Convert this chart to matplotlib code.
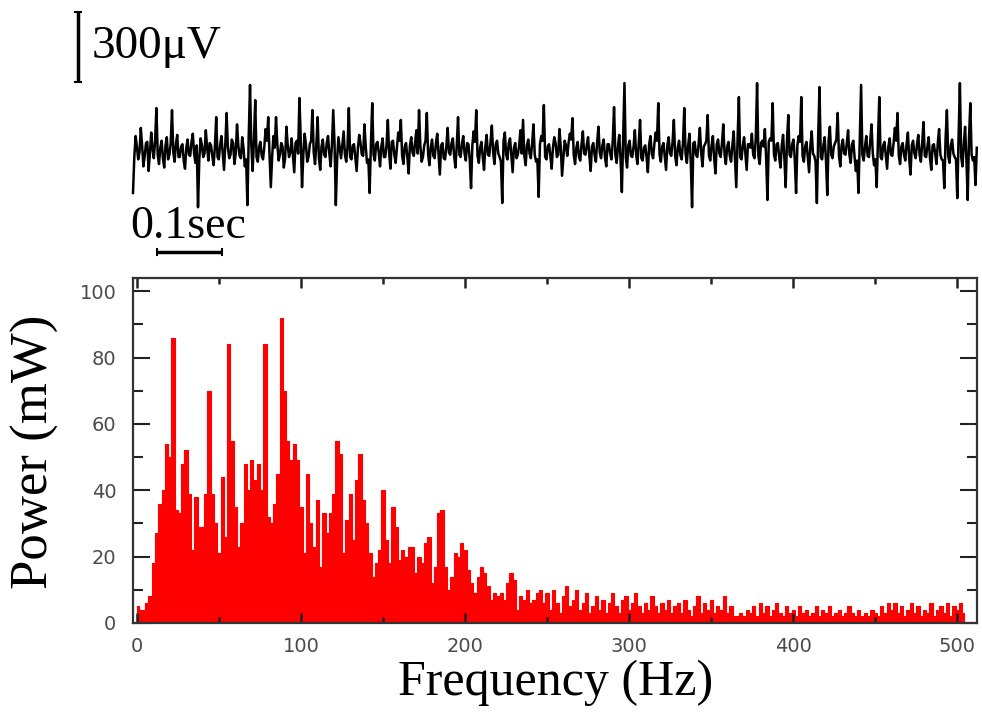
import matplotlib
matplotlib.use('Agg')
import matplotlib.pyplot as plt
import numpy as np

# raw trace, microvolts, one sample every 2 ms
trace_dt = 0.002
trace_uv = [
    -184, -30, 60, 15, -40, -10, 95, 20, -70, -25, 30, 35, -90, -15, 75, 5, -35, 40, 180, -20, -60, 10, 40, -35, -75, 20, 55, -40, -20, 30, 171, -10, -50, 25, 65, -30, -30, 15, 25, -45, -80, 10, 45, -20, -25, 35, 70, -15, -55, 20,
    -245, -40, 50, 20, -30, -15, 85, 10, -45, 30, 20, -25, -65, 15, 141, -30, -40, 20, 60, -10, -85, 25, 159, 10, -35, -20, 45, 30, -60, -15, 110, 20, -25, -35, 55, 10, -70, -40, -236, 60, 279, 20, -90, 40, 214, -30, -50, 15, 35, -25,
    -40, 15, 90, 40, 141, -20, -159, -30, 60, 10, 141, 25, -45, -20, 30, 15, -75, -35, 100, 20, -30, -10, 50, -25, -95, 30, 40, -15, 223, 50, -159, -20, 70, 25, -50, -30, 25, 40, 171, -10, -60, 20, 141, -35, -85, 15, 45, -20, -30, 30,
    60, -15, -70, 20, 171, 30, -236, -40, 55, 10, -35, 25, 80, -20, -50, 15, 180, -30, -40, 20, 25, -35, -90, 10, 65, 30, -20, -25, 110, 15, -55, -40, -184, 30, 201, -20, -45, 25, 35, -10, -70, 15, 50, -30, -30, 20, 129, -15, -80, 35,
    40, -20, -55, 10, 75, 40, 129, -25, -60, 15, 30, -30, -100, 20, 55, -10, -25, 35, 85, -15, 171, 20, -50, -30, 20, 40, 159, -20, -65, 10, 45, -25, -35, 30, 70, -15, -105, 20, 30, -35, -40, 15, 95, -10, -20, 30, 50, -25, -75, 20,
    141, -20, -30, 25, 60, -15, -45, 30, 25, -40, -163, 20, 80, 35, 171, -25, -55, 10, 35, -30, -85, 15, 65, -20, -25, 35, 105, -10, -60, 25, 40, -15, -30, -50, -227, 40, 75, -20, -40, 30, 50, -25, -95, 10, 30, -35, -20, 20, 85, -15,
    129, -25, -65, 20, 45, -15, -35, 30, 110, -20, -50, -40, -201, 25, 60, 40, 193, -30, -40, 15, 25, -25, -80, 10, 55, 30, -30, -20, 90, 15, -110, -35, 40, 20, -25, 30, 70, 45, 137, -20, -60, 10, 35, -30, -45, 25, 80, -15, -20, 20,
    55, -25, -90, 15, 30, -20, -50, 35, 100, -10, -35, 20, 45, -30, -70, 25, 25, -15, -40, 40, 184, -20, -55, 15, 65, -40, -180, 50, 287, -30, -75, 20, 40, -25, -30, 15, 85, -20, -60, 30, 129, -35, -45, 10, 20, -30, -95, 25, 60, -15,
    -35, 25, 75, 40, 201, -20, -50, 15, 30, -30, -85, 20, 55, -15, -25, 35, 129, -25, -65, 10, 40, -20, -40, 30, 180, -15, -55, 20, 70, -50, -245, 30, 35, -20, -30, 25, 95, -10, -70, 15, 25, 40, 150, -25, -45, 20, 60, -35, -100, 25,
    45, -15, -30, 30, 110, -20, -60, 15, 35, -25, -50, 20, 80, -40, -159, 45, 227, -30, -40, 20, 55, -15, -85, 25, 25, 10, 70, -20, -35, 50, 287, -25, -60, 30, 40, 15, 90, -40, -214, 35, 50, 40, 201, -20, -45, 25, 30, -30, -75, 20,
    65, -35, -159, 40, 150, -20, -30, 25, 45, -40, -184, 20, 60, 35, 227, -25, -50, 15, 35, -30, -95, 20, 80, -15, -25, -50, -227, 60, 270, -30, -40, 20, 55, -45, -193, 40, 100, -20, -35, 15, 30, 45, 159, -25, -70, 20, 45, -15, -20, 30,
    85, -20, -55, 25, 40, -30, -90, -45, -184, 50, 279, -20, -45, 15, 60, -25, -30, 35, 110, -15, -65, -40, -159, 45, 227, -30, -40, 20, 35, -25, -80, 15, 50, -20, -25, 30, 95, 40, 159, -25, -60, 15, 30, -20, -45, 25, 75, -35, -105, 20,
    40, -15, -35, 25, 65, -20, -50, 30, 120, -25, -30, 15, 55, -35, -85, 20, 25, -15, -60, 30, 90, -20, -40, -45, -163, 50, 171, -25, -55, 20, 45, -15, -30, -40, -206, 60, 287, -30, -70, 25, 100, -40, -214, 50, 201, -20, -45, -30, -150, 10,
]

# power spectrum, mW, 2 Hz bins starting at 0 Hz
freq_step = 2
power_mw = [
    5, 4, 4, 6, 8, 18, 27, 36, 40, 54,
    50, 86, 34, 33, 48, 52, 39, 22, 38, 29,
    29, 39, 70, 39, 30, 21, 44, 26, 84, 55,
    35, 23, 30, 48, 40, 49, 43, 48, 40, 84,
    32, 30, 36, 45, 92, 70, 55, 49, 54, 49,
    35, 21, 45, 30, 23, 37, 17, 33, 27, 33,
    39, 55, 51, 21, 31, 39, 25, 43, 51, 37,
    30, 21, 14, 18, 22, 40, 25, 18, 35, 29,
    19, 22, 20, 23, 23, 15, 20, 18, 24, 26,
    12, 17, 33, 34, 17, 10, 14, 21, 20, 24,
    22, 16, 12, 9, 14, 17, 15, 11, 7, 9,
    8, 9, 7, 12, 15, 13, 4, 8, 7, 10,
    6, 7, 9, 10, 6,
    9, 4, 10, 6, 3, 8, 11, 5, 7, 10, 4, 6, 9, 3, 5, 8, 4, 7, 3, 6,
    9, 5, 3, 7, 8, 4, 6, 9, 5, 3, 6, 4, 8, 5, 3, 6,
    4, 7, 3, 5, 6, 3, 7, 4, 2, 5, 8, 3, 6, 4, 7, 3, 5, 4, 8, 3,
    5, 2, 2, 3, 2, 4, 3, 5, 2, 6,
    3, 5, 2, 4, 6, 3, 2, 5, 3, 4, 2, 5, 3, 4, 2, 3, 5, 2, 4, 3,
    5, 2, 3, 4, 2, 3, 5, 3, 2, 4, 2, 3, 2, 4, 3, 2, 5, 3, 6, 4,
    6, 3, 5, 2, 4, 6, 3, 5, 2, 4, 3, 6, 2, 4, 5, 3, 6, 2, 5, 4,
    6, 3,
]

x_ticks = [0, 100, 200, 300, 400, 500]
y_ticks = [0, 20, 40, 60, 80, 100]

serif = 'Liberation Serif'

fig = plt.figure(figsize=(9.82, 7.14), dpi=100)

# --- top: raw signal with scale bars
ax_t = fig.add_axes([0, 0.6359, 1, 0.3641])
t = np.arange(len(trace_uv)) * trace_dt
ax_t.plot(t, trace_uv, color='black', lw=1.8)
ax_t.set_xlim(-0.2046, 1.306)
ax_t.set_ylim(-471, 643)
ax_t.axis('off')

bar_x = -0.0846
ax_t.plot([bar_x, bar_x], [291, 591], color='black', lw=2.5, solid_capstyle='butt')
ax_t.plot([bar_x - 0.005, bar_x + 0.005], [291, 291], color='black', lw=1.5)
ax_t.plot([bar_x - 0.005, bar_x + 0.005], [591, 591], color='black', lw=1.5)
ax_t.text(-0.063, 395, '300μV', fontsize=34, family=serif, va='baseline', ha='left')

ax_t.plot([0.0369, 0.1369], [-437, -437], color='black', lw=2.5, solid_capstyle='butt')
ax_t.plot([0.0369, 0.0369], [-450, -424], color='black', lw=1.5)
ax_t.plot([0.1369, 0.1369], [-450, -424], color='black', lw=1.5)
ax_t.text(-0.0046, -377, '0.1sec', fontsize=33, family=serif, va='baseline', ha='left')

# --- bottom: spectrum
ax = fig.add_axes([0.1354, 0.1275, 0.8595, 0.4832])
freq = np.arange(len(power_mw)) * freq_step
ax.fill_between(freq, power_mw, step='mid', color='#ff0000', lw=0.8)
ax.set_xlim(-2.4, 512)
ax.set_ylim(0, 104)
ax.set_xticks(x_ticks)
ax.set_xticks([50, 150, 250, 350, 450], minor=True)
ax.set_yticks(y_ticks)
ax.set_yticks([10, 30, 50, 70, 90], minor=True)
ax.tick_params(axis='both', which='both', direction='in', top=True, right=True,
               color='#222222', labelcolor='#4a4a4a', labelsize=14)
ax.tick_params(axis='y', which='major', length=12, width=1.5, pad=12)
ax.tick_params(axis='y', which='minor', length=7, width=1.5)
ax.tick_params(axis='x', which='major', length=7, width=1.8, pad=10)
ax.tick_params(axis='x', which='minor', length=4, width=1.8)
for s in ax.spines.values():
    s.set_linewidth(1.6)
    s.set_color('#333333')

fig.text(0.566, 0.0434, 'Frequency (Hz)', fontsize=36, family=serif, ha='center', va='center')
fig.text(0.0356, 0.367, 'Power (mW)', fontsize=38, family=serif, ha='center', va='center', rotation=90)

fig.savefig('out.png', dpi=100)
